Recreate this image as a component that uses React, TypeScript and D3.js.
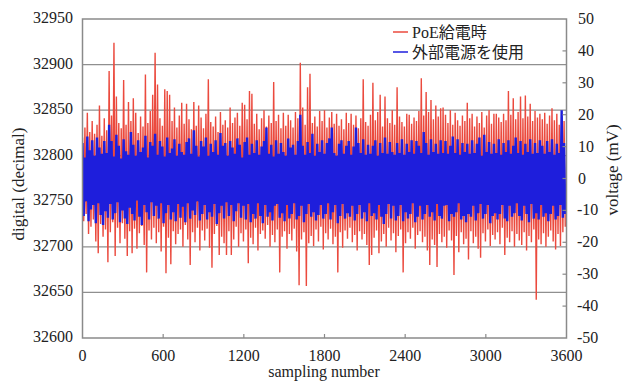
import * as d3 from 'd3';
import { useEffect, useRef } from 'react';

const W = 626;
const H = 385;
const plot = { left: 82.5, right: 566.5, top: 19, bottom: 338 };

// axis ticks
const xTicks = [0, 600, 1200, 1800, 2400, 3000, 3600];
const digitalTicks = [32600, 32650, 32700, 32750, 32800, 32850, 32900, 32950];
const voltTicks = [-50, -40, -30, -20, -10, 0, 10, 20, 30, 40, 50];

// samples are read every 9th point, stored as offset from the mid level
const sampleStep = 9;
const midLevel = 32776;

// PoE給電時 (red)
const poeOffsets = [
  44, -48, 55, -40, 71, -62, 50, -54, 62, -46, 48, -70, 58, -83, 79, -51, 46, -65, 65, -57,
  52, -93, 117, -60, 68, -49, 148, -86, 89, -55, 60, -72, 54, -50, 107, -67, 58, -86, 83, -59,
  62, -83, 87, -56, 71, -78, 49, -61, 67, -53, 56, -74, 113, -104, 60, -58, 73, -68, 91, -55,
  137, -72, 102, -60, 65, -81, 57, -54, 97, -105, 95, -66, 91, -95, 62, -59, 77, -73, 55, -62,
  68, -57, 82, -76, 59, -52, 81, -68, 64, -96, 53, -60, 83, -71, 57, -55, 79, -80, 66, -58,
  54, -69, 70, -56, 108, -77, 61, -99, 56, -62, 67, -53, 50, -85, 72, -65, 58, -72, 63, -85,
  55, -59, 77, -85, 60, -68, 66, -54, 71, -76, 57, -61, 82, -70, 80, -57, 64, -94, 95, -66,
  92, -73, 59, -55, 70, -80, 53, -62, 65, -58, 74, -67, 56, -52, 68, -76, 60, -63, 105, -71,
  62, -57, 69, -104, 54, -65, 71, -59, 57, -78, 69, -62, 63, -69, 55, -56, 72, -81, 65, -118,
  126, -68, 77, -60, 58, -119, 99, -72, 114, -64, 60, -75, 67, -57, 56, -70, 73, -54, 62, -79,
  74, -61, 55, -68, 66, -56, 72, -73, 59, -65, 70, -104, 57, -60, 64, -77, 53, -58, 71, -67,
  60, -55, 70, -71, 58, -63, 68, -80, 54, -59, 65, -68, 108, -62, 61, -74, 57, -96, 69, -85,
  104, -66, 63, -58, 72, -83, 91, -70, 56, -62, 89, -76, 65, -55, 60, -69, 74, -61, 58, -82,
  99, -64, 67, -57, 61, -104, 56, -72, 70, -60, 69, -67, 59, -55, 66, -78, 62, -63, 73, -59,
  109, -71, 68, -65, 94, -80, 72, -96, 85, -68, 64, -74, 79, -98, 67, -62, 76, -71, 77, -65,
  69, -77, 60, -58, 74, -69, 58, -107, 71, -64, 63, -82, 57, -60, 68, -73, 62, -67, 82, -90,
  65, -59, 70, -72, 56, -65, 67, -78, 60, -88, 72, -61, 55, -70, 68, -57, 74, -75, 59, -63,
  70, -68, 70, -60, 66, -73, 61, -55, 70, -85, 63, -66, 95, -71, 69, -59, 87, -76, 64, -62,
  72, -69, 89, -74, 65, -60, 90, -80, 67, -64, 81, -71, 62, -57, 73, -134, 66, -68, 70, -73,
  64, -61, 71, -76, 59, -65, 68, -58, 76, -70, 63, -79, 70, -62, 58, -75, 67, -60, 62, -54,
];

// 外部電源を使用 (blue)
const extOffsets = [
  38, -42, 22, -26, 45, -48, 30, -35, 41, -30, 24, -50, 44, -28, 33, -41, 26, -52, 40, -37,
  27, -44, 58, -29, 40, -46, 23, -39, 47, -27, 35, -49, 21, -36, 42, -45, 29, -51, 25, -33,
  50, -40, 36, -47, 24, -25, 41, -43, 28, -52, 33, -30, 46, -38, 22, -46, 39, -27, 35, -42,
  48, -31, 25, -45, 40, -28, 34, -50, 23, -39, 44, -30, 27, -46, 32, -38, 42, -48, 24, -29,
  37, -44, 28, -32, 25, -49, 39, -28, 43, -45, 26, -36, 52, -41, 35, -26, 23, -47, 40, -40,
  34, -30, 44, -46, 24, -38, 37, -43, 28, -29, 41, -51, 25, -39, 49, -31, 35, -45, 38, -27,
  24, -42, 40, -30, 33, -48, 26, -37, 43, -28, 36, -44, 22, -31, 39, -46, 44, -29, 25, -49,
  37, -40, 27, -45, 41, -28, 25, -42, 34, -50, 40, -30, 55, -43, 26, -38, 36, -47, 23, -31,
  41, -29, 26, -44, 38, -39, 28, -48, 24, -30, 43, -45, 33, -40, 36, -28, 25, -46, 40, -42,
  69, -31, 35, -49, 25, -40, 39, -29, 27, -43, 48, -38, 24, -47, 37, -41, 28, -30, 41, -45,
  26, -40, 38, -28, 43, -46, 55, -38, 27, -30, 24, -50, 37, -42, 41, -29, 26, -45, 35, -39,
  40, -43, 25, -31, 34, -47, 55, -40, 38, -30, 27, -45, 42, -38, 25, -48, 36, -28, 26, -42,
  35, -39, 41, -46, 24, -30, 38, -43, 27, -51, 44, -40, 26, -29, 39, -45, 28, -31, 25, -47,
  38, -42, 27, -30, 42, -48, 25, -38, 37, -45, 28, -40, 41, -28, 26, -49, 40, -43, 35, -31,
  27, -46, 50, -40, 38, -30, 25, -43, 42, -38, 28, -47, 37, -29, 26, -42, 41, -45, 27, -31,
  40, -30, 26, -48, 35, -40, 45, -43, 27, -38, 42, -28, 25, -46, 38, -42, 28, -49, 37, -40,
  26, -43, 41, -31, 27, -47, 37, -39, 44, -29, 24, -45, 47, -40, 28, -30, 39, -50, 26, -42,
  37, -39, 27, -46, 42, -40, 25, -30, 38, -45, 28, -48, 41, -31, 26, -43, 35, -39, 44, -28,
  27, -42, 40, -47, 25, -31, 37, -40, 28, -49, 42, -29, 26, -45, 38, -39, 27, -46, 41, -30,
  35, -43, 26, -39, 40, -48, 28, -40, 42, -31, 25, -46, 37, -42, 27, -30, 74, -44, 38, -40,
];

const seriesNames = ['PoE給電時', '外部電源を使用'];
const seriesColors = ['#eb4a3e', '#1e1edc'];
const seriesWidths = [1.4, 2.4];

const font = "'Liberation Serif', 'Times New Roman', 'Noto Sans CJK JP', serif";

const App = () => {
  const svgRef = useRef<SVGSVGElement>(null);

  useEffect(() => {
    const svg = d3.select(svgRef.current);
    svg.selectAll('*').remove();

    const x = d3.scaleLinear().domain([0, 3600]).range([plot.left, plot.right]);
    const y = d3.scaleLinear().domain([32600, 32950]).range([plot.bottom, plot.top]);
    const yv = d3.scaleLinear().domain([-50, 50]).range([plot.bottom, plot.top]);

    svg.append('rect').attr('width', W).attr('height', H).attr('fill', '#fff');

    // gridlines
    svg.append('g')
      .selectAll('line')
      .data(digitalTicks.slice(1, -1))
      .join('line')
      .attr('x1', plot.left).attr('x2', plot.right)
      .attr('y1', d => y(d)).attr('y2', d => y(d))
      .attr('stroke', '#8f8f8f').attr('stroke-width', 1.2);

    // series
    const line = d3.line<number>()
      .x((_, i) => x(i * sampleStep))
      .y(d => y(midLevel + d));

    const clip = svg.append('clipPath').attr('id', 'plotClip');
    clip.append('rect')
      .attr('x', plot.left).attr('y', plot.top)
      .attr('width', plot.right - plot.left).attr('height', plot.bottom - plot.top);

    [poeOffsets, extOffsets].forEach((s, k) => {
      svg.append('path')
        .datum(s)
        .attr('d', line)
        .attr('clip-path', 'url(#plotClip)')
        .attr('fill', 'none')
        .attr('stroke', seriesColors[k])
        .attr('stroke-width', seriesWidths[k])
        .attr('stroke-linejoin', 'bevel');
    });

    // frame
    svg.append('rect')
      .attr('x', plot.left).attr('y', plot.top)
      .attr('width', plot.right - plot.left).attr('height', plot.bottom - plot.top)
      .attr('fill', 'none').attr('stroke', '#8a8a8a').attr('stroke-width', 1.5);

    // x ticks (inward)
    svg.append('g')
      .selectAll('line')
      .data(xTicks.slice(1, -1))
      .join('line')
      .attr('x1', d => x(d)).attr('x2', d => x(d))
      .attr('y1', plot.bottom).attr('y2', plot.bottom - 4)
      .attr('stroke', '#8a8a8a').attr('stroke-width', 1.2);

    // right ticks (inward)
    svg.append('g')
      .selectAll('line')
      .data(voltTicks.slice(1, -1))
      .join('line')
      .attr('x1', plot.right).attr('x2', plot.right - 4)
      .attr('y1', d => yv(d)).attr('y2', d => yv(d))
      .attr('stroke', '#8a8a8a').attr('stroke-width', 1.2);

    const text = svg.append('g').attr('font-family', font).attr('fill', '#222');

    text.selectAll('.xl')
      .data(xTicks)
      .join('text')
      .attr('x', d => x(d)).attr('y', 361)
      .attr('text-anchor', 'middle').attr('font-size', 16)
      .text(d => d);

    text.selectAll('.yl')
      .data(digitalTicks)
      .join('text')
      .attr('x', 73).attr('y', d => y(d) + 4)
      .attr('text-anchor', 'end').attr('font-size', 16)
      .text(d => d);

    text.selectAll('.vl')
      .data(voltTicks)
      .join('text')
      .attr('x', d => (d < 0 ? 577 : 578)).attr('y', d => yv(d) + 5)
      .attr('text-anchor', 'start').attr('font-size', 16)
      .text(d => d);

    text.append('text')
      .attr('x', 324).attr('y', 377)
      .attr('text-anchor', 'middle').attr('font-size', 16)
      .text('sampling number');

    text.append('text')
      .attr('transform', 'translate(24,184) rotate(-90)')
      .attr('text-anchor', 'middle').attr('font-size', 17)
      .text('digital (decimal)');

    text.append('text')
      .attr('transform', 'translate(618,170) rotate(-90)')
      .attr('text-anchor', 'middle').attr('font-size', 17)
      .text('voltage (mV)');

    // legend
    const lg = svg.append('g');
    seriesNames.forEach((name, i) => {
      const ly = 32 + i * 20;
      lg.append('line')
        .attr('x1', 393).attr('x2', 408)
        .attr('y1', ly).attr('y2', ly)
        .attr('stroke', seriesColors[i]).attr('stroke-width', 1.5);
      lg.append('text')
        .attr('x', 412).attr('y', ly + 6)
        .attr('font-family', font).attr('font-size', 16).attr('fill', '#222')
        .text(name);
    });
  }, []);

  return (
    <svg ref={svgRef} width={W} height={H}
      style={{ position: 'absolute', left: 0, top: 0 }} />
  );
};

export default App;
